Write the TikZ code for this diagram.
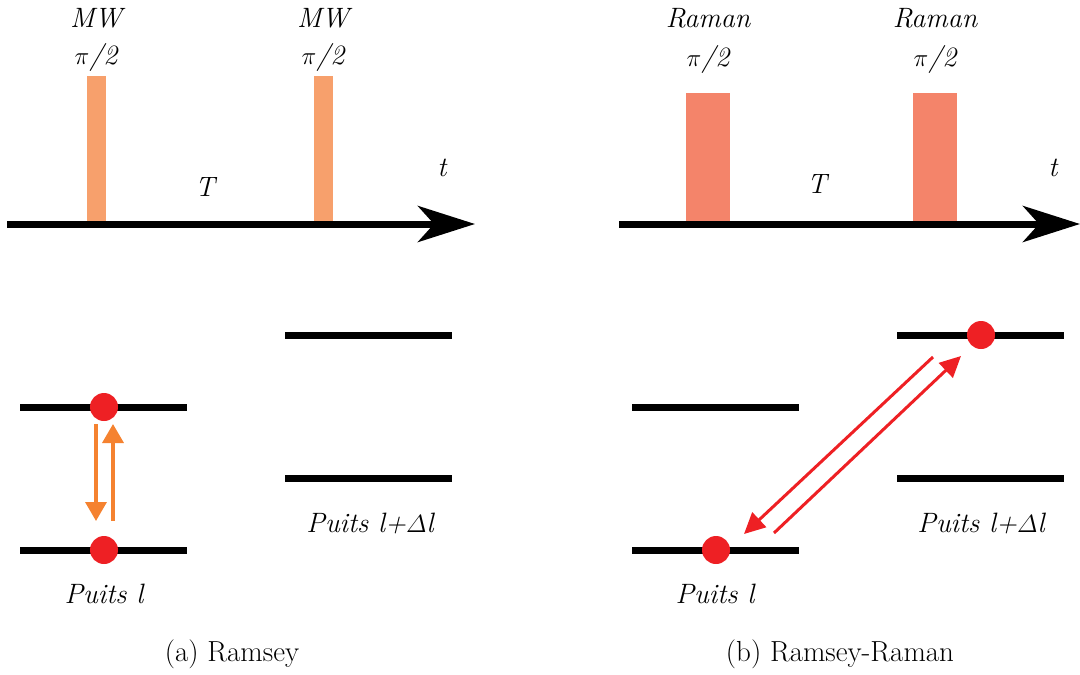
\documentclass[tikz,border=0pt]{standalone}
\usepackage{fontspec}
\usetikzlibrary{arrows.meta}
\definecolor{mwpulse}{HTML}{F7A06C}
\definecolor{rampulse}{HTML}{F4846A}
\definecolor{dotred}{HTML}{EE2024}
\definecolor{arrorange}{HTML}{F58230}
\begin{document}
\begin{tikzpicture}[x=1pt,y=-1pt,
  lbl/.style={font=\fontsize{28}{33}\selectfont\itshape, inner sep=0pt, anchor=base},
  captxt/.style={font=\fontsize{29}{34}\selectfont, inner sep=0pt, anchor=base},
  timeaxis/.style={line width=7pt, -{Stealth[length=57pt,width=36pt,inset=16pt]}},
  level/.style={line width=7pt},
  dot/.style={circle, fill=dotred, minimum size=28pt, inner sep=0pt},
  mwbar/.style={fill=mwpulse, minimum width=19pt, minimum height=146pt, inner sep=0pt, anchor=south},
  rambar/.style={fill=rampulse, minimum width=44pt, minimum height=129pt, inner sep=0pt, anchor=south},
  oarrow/.style={draw=arrorange, line width=3.5pt, -{Triangle[length=19pt,width=21pt]}},
  rarrow/.style={draw=dotred, line width=3pt, -{Triangle[length=21pt,width=20pt]}}]
\useasboundingbox (0,0) rectangle (1080,675);

% ---------- (a) Ramsey : time line ----------
\node[mwbar] (pa1) at (96.5,222) {};
\node[mwbar] (pa2) at (323.5,222) {};
\coordinate (axa0) at (7,224);
\coordinate (axa1) at (475,224);
\draw[timeaxis] (axa0) -- (axa1);
\node[lbl] (mwa1) at (96,27) {MW};
\node[lbl] (pia1) at (96,64) {$\pi$/2};
\node[lbl] (mwa2) at (323,27) {MW};
\node[lbl] (pia2) at (323,64) {$\pi$/2};
\node[lbl] (Ta) at (205,196) {T};
\node[lbl] (ta) at (442,176) {t};

% ---------- (b) Ramsey-Raman : time line ----------
\node[rambar] (pb1) at (708,222) {};
\node[rambar] (pb2) at (935,222) {};
\coordinate (axb0) at (619,224);
\coordinate (axb1) at (1080,224);
\draw[timeaxis] (axb0) -- (axb1);
\node[lbl] (rma1) at (708,27) {Raman};
\node[lbl] (pib1) at (708,66) {$\pi$/2};
\node[lbl] (rma2) at (935,27) {Raman};
\node[lbl] (pib2) at (935,66) {$\pi$/2};
\node[lbl] (Tb) at (817,193) {T};
\node[lbl] (tb) at (1053,176) {t};

% ---------- (a) levels ----------
\coordinate (a1l) at (20,407);  \coordinate (a1r) at (187,407);
\coordinate (a0l) at (20,550);  \coordinate (a0r) at (187,550);
\coordinate (b1l) at (285,335); \coordinate (b1r) at (452,335);
\coordinate (b0l) at (285,478); \coordinate (b0r) at (452,478);
\draw[level] (a1l) -- (a1r);
\draw[level] (a0l) -- (a0r);
\draw[level] (b1l) -- (b1r);
\draw[level] (b0l) -- (b0r);
\node[dot] (da1) at (104,407) {};
\node[dot] (da0) at (104,550) {};
\coordinate (dn0) at (96,424);  \coordinate (dn1) at (96,521);
\coordinate (up0) at (113,521); \coordinate (up1) at (113,424);
\draw[oarrow] (dn0) -- (dn1);
\draw[oarrow] (up0) -- (up1);
\node[lbl] (puitsa) at (104,603) {Puits l};
\node[lbl] (puitsb) at (370,532) {Puits l+$\mathnormal{\Delta}$l};

% ---------- (b) levels ----------
\coordinate (c1l) at (632,407); \coordinate (c1r) at (799,407);
\coordinate (c0l) at (632,550); \coordinate (c0r) at (799,550);
\coordinate (e1l) at (897,335); \coordinate (e1r) at (1064,335);
\coordinate (e0l) at (897,478); \coordinate (e0r) at (1064,478);
\draw[level] (c1l) -- (c1r);
\draw[level] (c0l) -- (c0r);
\draw[level] (e1l) -- (e1r);
\draw[level] (e0l) -- (e0r);
\node[dot] (dc0) at (716,550) {};
\node[dot] (de1) at (981,335) {};
\coordinate (rd0) at (933,357); \coordinate (rd1) at (744,534);
\coordinate (ru0) at (774,533); \coordinate (ru1) at (961,356);
\draw[rarrow] (rd0) -- (rd1);
\draw[rarrow] (ru0) -- (ru1);
\node[lbl] (puitsc) at (715,603) {Puits l};
\node[lbl] (puitse) at (981,532) {Puits l+$\mathnormal{\Delta}$l};

% ---------- captions ----------
\node[captxt] (capa) at (232,661) {(a) Ramsey};
\node[captxt] (capb) at (840,661) {(b) Ramsey-Raman};
\end{tikzpicture}
\end{document}
